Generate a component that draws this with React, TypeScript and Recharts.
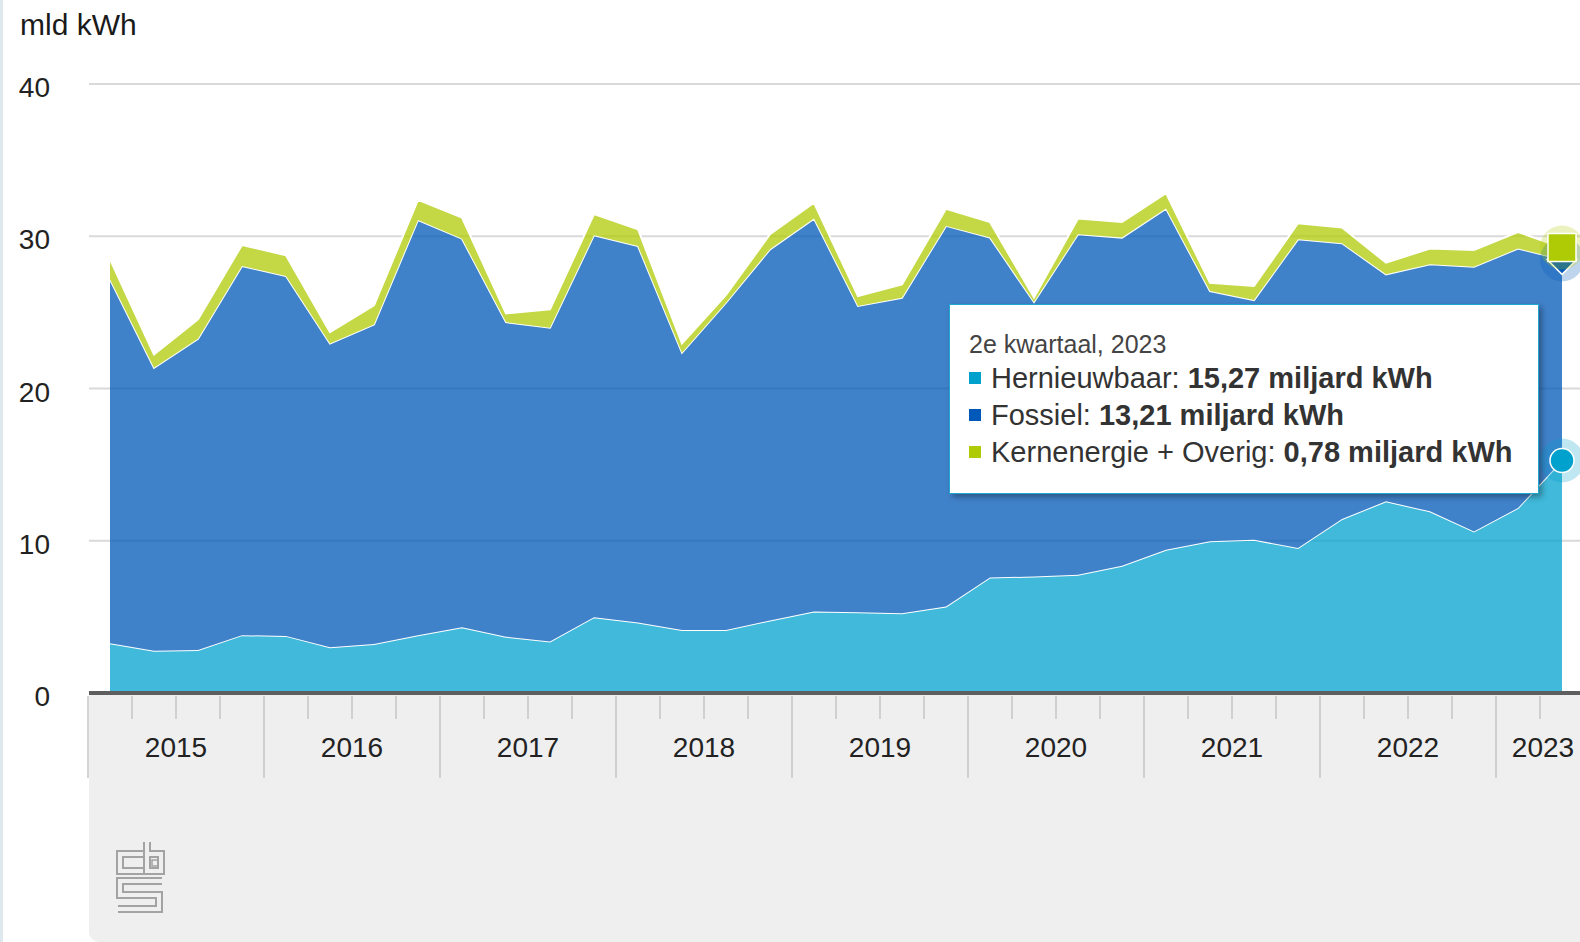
import React from "react";
import { AreaChart, Area, XAxis, YAxis, CartesianGrid, Tooltip } from "recharts";

// kwartalen 2015 t/m 2e kwartaal 2023
const periods = [
  "1e kwartaal, 2015", "2e kwartaal, 2015", "3e kwartaal, 2015", "4e kwartaal, 2015",
  "1e kwartaal, 2016", "2e kwartaal, 2016", "3e kwartaal, 2016", "4e kwartaal, 2016",
  "1e kwartaal, 2017", "2e kwartaal, 2017", "3e kwartaal, 2017", "4e kwartaal, 2017",
  "1e kwartaal, 2018", "2e kwartaal, 2018", "3e kwartaal, 2018", "4e kwartaal, 2018",
  "1e kwartaal, 2019", "2e kwartaal, 2019", "3e kwartaal, 2019", "4e kwartaal, 2019",
  "1e kwartaal, 2020", "2e kwartaal, 2020", "3e kwartaal, 2020", "4e kwartaal, 2020",
  "1e kwartaal, 2021", "2e kwartaal, 2021", "3e kwartaal, 2021", "4e kwartaal, 2021",
  "1e kwartaal, 2022", "2e kwartaal, 2022", "3e kwartaal, 2022", "4e kwartaal, 2022",
  "1e kwartaal, 2023", "2e kwartaal, 2023",
];

// mld kWh
const hernieuwbaar = [
  3.27, 2.78, 2.83, 3.8, 3.75, 3.0, 3.22, 3.8, 4.32, 3.7, 3.38, 4.98, 4.63, 4.14, 4.14, 4.76, 5.35,
  5.31, 5.24, 5.68, 7.59, 7.65, 7.76, 8.36, 9.41, 9.96, 10.07, 9.52, 11.43, 12.59, 11.93, 10.61, 12.15, 15.27,
];
const fossiel = [
  23.9, 18.58, 20.44, 24.25, 23.64, 19.96, 20.99, 27.27, 25.52, 20.66, 20.61, 25.09, 24.73, 18.21, 21.5,
  24.38, 25.81, 20.11, 20.72, 25.0, 22.32, 18.03, 22.37, 21.55, 22.41, 16.44, 15.74, 20.28, 18.11, 14.91,
  16.23, 17.39, 17.04, 13.21,
];
const kernOverig = [
  1.32, 0.88, 1.27, 1.38, 1.36, 0.74, 1.25, 1.32, 1.39, 0.57, 1.21, 1.38, 1.1, 0.61, 0.51, 0.99, 1.04,
  0.65, 0.88, 1.12, 1.03, 0.3, 1.03, 1.03, 1.01, 0.55, 0.92, 1.06, 1.03, 0.77, 1.03, 1.1, 1.09, 0.78,
];

const yTicks = [0, 10, 20, 30, 40];

const COLORS = { hernieuwbaar: "#00a1cd", fossiel: "#0058b8", kern: "#afcb05" };
const FONT = "'Liberation Sans', Arial, sans-serif";

const W = 1580;
const H = 942;
const LEFT = 89;
const TOP = 84;
const AXIS_H = 249;
const PAD_L = 21;
const PAD_R = 18;
const cell = (W - LEFT - PAD_L - PAD_R) / (periods.length - 1);
const lastIndex = periods.length - 1;

const data = periods.map((p, i) => ({
  period: p,
  hernieuwbaar: hernieuwbaar[i],
  fossiel: fossiel[i],
  kern: kernOverig[i],
}));

const fmt = (v: number) => v.toFixed(2).replace(".", ",");

function YTick(props: any) {
  const { y, payload } = props;
  return (
    <text x={50} y={y + 13} textAnchor="end" fontSize={28} fill="#222" fontFamily={FONT}>
      {payload.value}
    </text>
  );
}

function XTick(props: any) {
  const { x, y, payload } = props;
  const label: string = payload.value;
  const year = label.slice(-4);
  const q = Number(label[0]);
  const left = x - cell / 2;
  const n = periods.filter((p) => p.endsWith(year)).length;
  return (
    <g>
      <line x1={left} x2={left} y1={y + 3} y2={q === 1 ? y + 85 : y + 26} stroke="#c6c6c6" strokeWidth={1.5} />
      {q === 1 && (
        <text x={left + (n * cell) / 2 + (n < 4 ? 3 : 0)} y={y + 64} textAnchor="middle" fontSize={28} fill="#222" fontFamily={FONT}>
          {year}
        </text>
      )}
    </g>
  );
}

function makeDot(kind: "circle" | "diamond" | "square", color: string) {
  return (props: any) => {
    const { cx, cy, index } = props;
    if (index !== lastIndex || cx == null || cy == null) return <g key={`${kind}-${index}`} />;
    let mark;
    if (kind === "circle") {
      mark = <circle cx={cx} cy={cy} r={12} fill={color} stroke="#fff" strokeWidth={1.5} />;
    } else if (kind === "diamond") {
      const s = 15;
      mark = (
        <path
          d={`M ${cx} ${cy - s} L ${cx + s} ${cy} L ${cx} ${cy + s} L ${cx - s} ${cy} Z`}
          fill={color}
          stroke="#fff"
          strokeWidth={1.5}
        />
      );
    } else {
      mark = <rect x={cx - 14} y={cy - 14} width={28} height={28} fill={color} stroke="#fff" strokeWidth={1.5} />;
    }
    return (
      <g key={`${kind}-${index}`}>
        <circle cx={cx} cy={cy} r={22} fill={color} fillOpacity={0.25} />
        {mark}
      </g>
    );
  };
}

function TipContent({ active, payload, label }: any) {
  if (!active || !payload || !payload.length) return null;
  return (
    <div
      style={{
        width: 590,
        boxSizing: "border-box",
        background: "#fff",
        border: "1.5px solid #1fa6d3",
        boxShadow: "3px 3px 6px rgba(0,0,0,0.35)",
        padding: "23px 18px 22px 19px",
        fontFamily: FONT,
        color: "#333",
      }}
    >
      <div style={{ fontSize: 25, lineHeight: "32px", color: "#444" }}>{label}</div>
      {payload.map((p: any) => (
        <div key={p.dataKey} style={{ fontSize: 29, lineHeight: "37px", whiteSpace: "nowrap" }}>
          <span
            style={{
              display: "inline-block",
              width: 12,
              height: 12,
              background: COLORS[p.dataKey as keyof typeof COLORS],
              marginRight: 10,
              verticalAlign: "middle",
              position: "relative",
              top: -2,
            }}
          />
          {p.name}: <b>{fmt(p.value)} miljard kWh</b>
        </div>
      ))}
    </div>
  );
}

function CbsLogo() {
  const outer = { stroke: "#a3a3a3", strokeWidth: 8, fill: "none", strokeLinejoin: "miter" as const };
  const inner = { stroke: "#efefef", strokeWidth: 4, fill: "none", strokeLinejoin: "miter" as const };
  const c = "M 28 15 H 5 V 32 H 28";
  const b = "M 32 3 V 32 H 46 V 15 H 32";
  const s = "M 47 42 H 5 V 56 H 44 V 70 H 3";
  return (
    <svg width={54} height={78} style={{ position: "absolute", left: 115, top: 839 }}>
      {[c, b, s].map((d) => (
        <path key={"o" + d} d={d} {...outer} />
      ))}
      {[c, b, s].map((d) => (
        <path key={"i" + d} d={d} {...inner} />
      ))}
      <rect x={37} y={21} width={6} height={6} fill="none" stroke="#a3a3a3" strokeWidth={1.5} />
    </svg>
  );
}

export default function App() {
  return (
    <div
      style={{
        position: "absolute",
        left: 0,
        top: 0,
        width: W,
        height: H,
        background: "#fff",
        overflow: "hidden",
        fontFamily: FONT,
      }}
    >
      <div style={{ position: "absolute", left: 0, top: 0, width: 3, height: H, background: "#dfe8ec" }} />
      <div
        style={{
          position: "absolute",
          left: LEFT,
          top: H - AXIS_H,
          width: W - LEFT,
          height: AXIS_H,
          background: "#efefef",
          borderBottomLeftRadius: 10,
        }}
      />
      <CbsLogo />
      <div style={{ position: "absolute", left: 20, top: 8, fontSize: 30, lineHeight: "34px", color: "#1a1a1a" }}>
        mld kWh
      </div>
      <div style={{ position: "absolute", left: 0, top: 0 }}>
        <AreaChart width={W} height={H} data={data} margin={{ top: TOP, right: 0, bottom: 0, left: 0 }}>
          <CartesianGrid vertical={false} stroke="#d9d9d9" strokeWidth={2} />
          <XAxis
            dataKey="period"
            type="category"
            interval={0}
            height={AXIS_H}
            padding={{ left: PAD_L, right: PAD_R }}
            tickSize={0}
            tickMargin={0}
            tickLine={false}
            axisLine={{ stroke: "#5e5e5e", strokeWidth: 4 }}
            tick={XTick}
          />
          <YAxis
            domain={[0, 40]}
            ticks={yTicks}
            interval={0}
            width={LEFT}
            axisLine={false}
            tickLine={false}
            tick={YTick}
          />
          <Tooltip
            content={<TipContent />}
            defaultIndex={lastIndex}
            active
            cursor={false}
            position={{ x: 949, y: 304 }}
            isAnimationActive={false}
            wrapperStyle={{ outline: "none", zIndex: 5 }}
          />
          <Area
            type="linear"
            dataKey="hernieuwbaar"
            name="Hernieuwbaar"
            stackId="1"
            stroke="#fff"
            strokeWidth={2}
            fill={COLORS.hernieuwbaar}
            fillOpacity={0.75}
            activeDot={false}
            dot={makeDot("circle", COLORS.hernieuwbaar)}
            isAnimationActive={false}
          />
          <Area
            type="linear"
            dataKey="fossiel"
            name="Fossiel"
            stackId="1"
            stroke="#fff"
            strokeWidth={2}
            fill={COLORS.fossiel}
            fillOpacity={0.75}
            activeDot={false}
            dot={makeDot("diamond", COLORS.fossiel)}
            isAnimationActive={false}
          />
          <Area
            type="linear"
            dataKey="kern"
            name="Kernenergie + Overig"
            stackId="1"
            stroke="#fff"
            strokeWidth={2}
            fill={COLORS.kern}
            fillOpacity={0.75}
            activeDot={false}
            dot={makeDot("square", COLORS.kern)}
            isAnimationActive={false}
          />
        </AreaChart>
      </div>
    </div>
  );
}
